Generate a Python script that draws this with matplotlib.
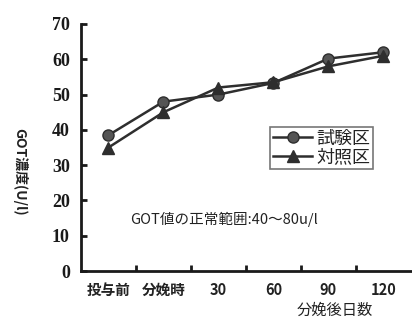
import matplotlib
matplotlib.use("Agg")
import matplotlib.pyplot as plt

plt.rcParams['font.family'] = ['Noto Sans CJK JP', 'DejaVu Sans']

categories = ['投与前', '分娩時', '30', '60', '90', '120']
test_group = [38.5, 48, 50, 53.3, 60.2, 62]
control_group = [35, 45, 52, 53.5, 58, 61]
y_ticks = [0, 10, 20, 30, 40, 50, 60, 70]

fig = plt.figure(figsize=(4.12, 3.2), dpi=100)
ax = fig.add_axes([81/412, 49/320, 331/412, 247/320])

x = [i + 0.5 for i in range(len(categories))]
col = '#2e2e2e'
ax.plot(x, test_group, color=col, lw=1.8, marker='o', ms=8,
        mfc='#555555', mec=col, label='試験区')
ax.plot(x, control_group, color=col, lw=1.8, marker='^', ms=8,
        mfc=col, mec=col, label='対照区')

ax.set_xlim(0, 6.02)
ax.set_ylim(0, 70)
for s in ['top', 'right']:
    ax.spines[s].set_visible(False)
for s in ['left', 'bottom']:
    ax.spines[s].set_linewidth(2)
    ax.spines[s].set_color('#1a1a1a')

ax.set_yticks(y_ticks)
ax.set_yticklabels([str(v) for v in y_ticks], family='Liberation Serif',
                   fontsize=13, fontweight='bold', color='#222222')
ax.tick_params(axis='y', direction='in', length=4, width=2, pad=8, colors='#1a1a1a')

ax.set_xticks([1, 2, 3, 4, 5])
ax.set_xticklabels([])
ax.tick_params(axis='x', which='major', direction='in', length=4, width=2, colors='#1a1a1a')
ax.set_xticks(x, minor=True)
ax.set_xticklabels(categories, minor=True, fontsize=10.5, fontweight='bold', color='#222222')
ax.tick_params(axis='x', which='minor', length=0, pad=8)

ax.text(0.89, 14.5, 'GOT値の正常範囲:40～80u/l', fontsize=10.5, color='#222222', va='center')

fig.text(20/412, 1 - 172/320, 'GOT濃度(U/l)', rotation=270, fontsize=10,
         fontweight='bold', color='#222222', ha='center', va='center')
fig.text(335/412, 1 - 310/320, '分娩後日数', fontsize=11, color='#222222',
         ha='center', va='center')

leg = ax.legend(loc='upper left', bbox_to_anchor=(270/412, 1 - 127/320),
                bbox_transform=fig.transFigure, frameon=True, fancybox=False,
                fontsize=13, handlelength=2.2, handletextpad=0.2,
                borderpad=0.15, labelspacing=0.02, borderaxespad=0)
leg.get_frame().set_edgecolor('#555555')
leg.get_frame().set_linewidth(1.2)
for t in leg.get_texts():
    t.set_color('#222222')

fig.savefig('out.png', dpi=100, facecolor='white')
